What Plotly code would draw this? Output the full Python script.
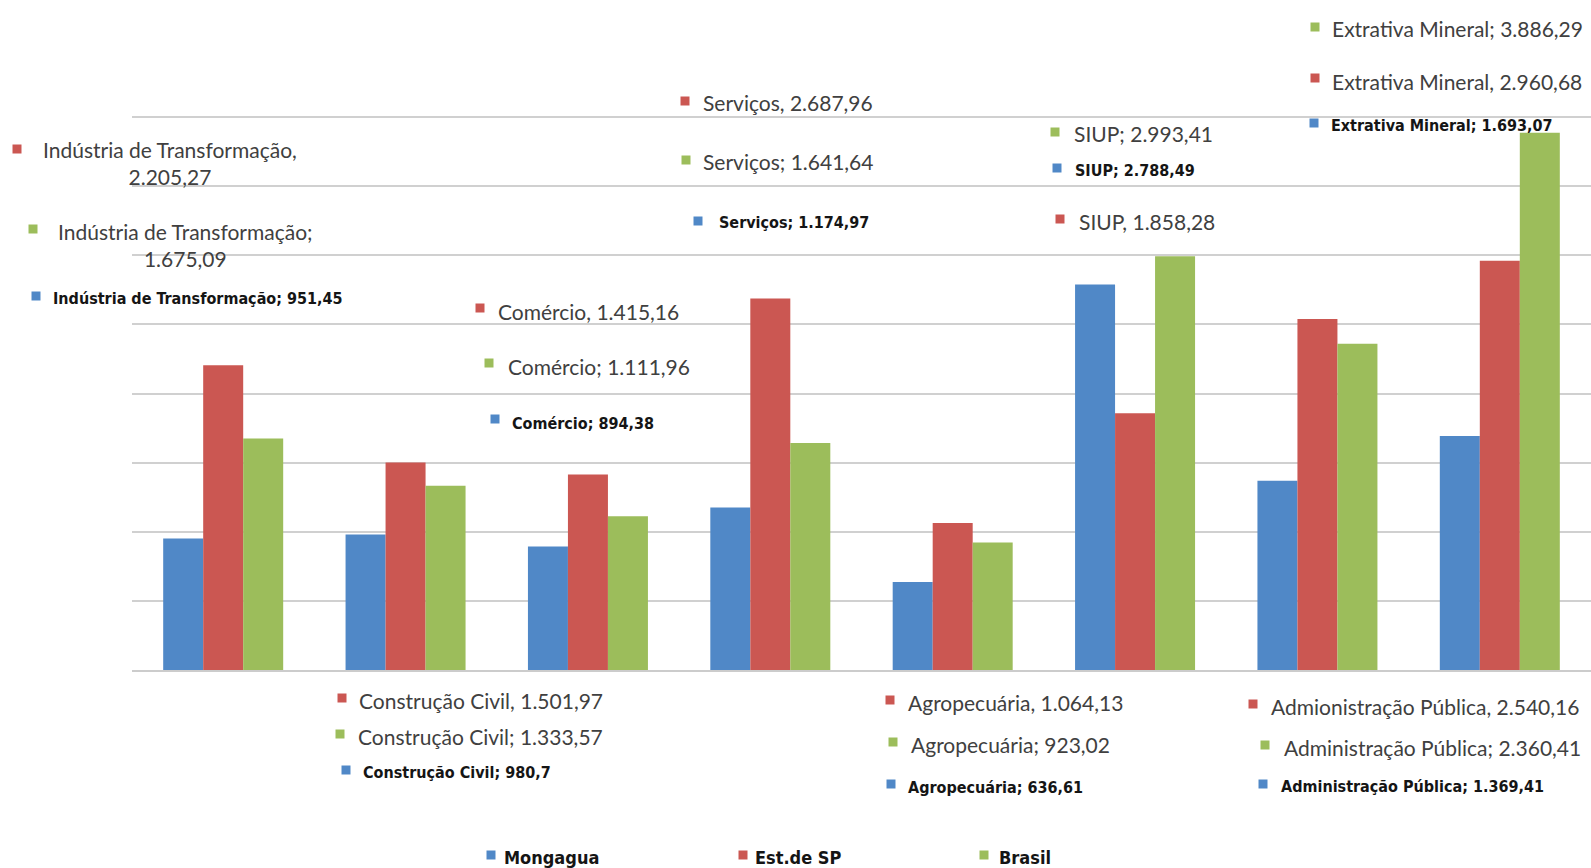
import plotly.graph_objects as go

# Dados: rendimento médio por setor de atividade
categorias = [
    "Indústria de Transformação", "Construção Civil", "Comércio", "Serviços",
    "Agropecuária", "SIUP", "Administração Pública", "Extrativa Mineral",
]
mongagua = [951.45, 980.7, 894.38, 1174.97, 636.61, 2788.49, 1369.41, 1693.07]
est_sp = [2205.27, 1501.97, 1415.16, 2687.96, 1064.13, 1858.28, 2540.16, 2960.68]
brasil = [1675.09, 1333.57, 1111.96, 1641.64, 923.02, 2993.41, 2360.41, 3886.29]

series_nomes = ["Mongagua", "Est.de SP", "Brasil"]
cores = ["#5088C7", "#CB5752", "#9CBD5B"]

# Geometria da figura (px)
W, H = 1591, 868
L, R, T, B = 132, 0, 48, 198
PW, PH = W - L - R, H - T - B


def fx(px):
    return (px - L) / PW


def fy(py):
    return (H - B - py) / PH


def br(v):
    s = f"{v:,.2f}".rstrip("0")
    return s.replace(",", "#").replace(".", ",").replace("#", ".")


fig = go.Figure()
for nome, vals, cor in zip(series_nomes, [mongagua, est_sp, brasil], cores):
    fig.add_trace(go.Bar(x=categorias, y=vals, name=nome, marker=dict(color=cor, line=dict(width=0))))

FONTE_REG = dict(family="Lato, 'Open Sans', sans-serif", size=21, color="#404040")
FONTE_NEG = dict(family="'Liberation Sans Narrow', 'Arial Narrow', 'DejaVu Sans Condensed', sans-serif",
                 size=16, color="#151515", weight="bold")

# Posição de cada rótulo: (série, categoria, quadrado x, quadrado y, texto x, texto y)
rotulos = [
    (0, 0, 36, 296, 51, 298),
    (1, 0, 17, 149, 170, 163),
    (2, 0, 33, 229, 185, 245),
    (1, 1, 342, 698, 357, 700),
    (2, 1, 340, 734, 356, 736),
    (0, 1, 346, 770, 361, 772),
    (1, 2, 480, 308, 496, 311),
    (2, 2, 489, 363, 506, 366),
    (0, 2, 495, 419, 510, 423),
    (1, 3, 685, 101, 701, 102),
    (2, 3, 686, 160, 701, 162),
    (0, 3, 698, 221, 717, 223),
    (1, 4, 890, 700, 906, 702),
    (2, 4, 893, 742, 909, 744),
    (0, 4, 891, 784, 906, 787),
    (2, 5, 1055, 132, 1072, 133),
    (0, 5, 1057, 168, 1073, 170),
    (1, 5, 1060, 219, 1077, 221),
    (1, 6, 1253, 704, 1269, 706),
    (2, 6, 1265, 745, 1282, 747),
    (0, 6, 1263, 784, 1279, 786),
    (2, 7, 1315, 27, 1330, 28),
    (1, 7, 1315, 78, 1330, 81),
    (0, 7, 1314, 123, 1329, 126),
]
nome_rotulo_sp = {6: "Admionistração Pública"}
todas = [mongagua, est_sp, brasil]

shapes = []
annots = []
Q = 4.5
for s, c, qx, qy, tx, ty in rotulos:
    v = todas[s][c]
    nome = nome_rotulo_sp.get(c, categorias[c]) if s == 1 else categorias[c]
    sep = "," if s == 1 else ";"
    if c == 0 and s in (1, 2):
        texto = f"{nome}{sep}<br>{br(v)}"
        xa = "center"
    else:
        texto = f"{nome}{sep} {br(v)}"
        xa = "left"
    shapes.append(dict(type="rect", xref="paper", yref="paper",
                       x0=fx(qx - Q), x1=fx(qx + Q), y0=fy(qy + Q), y1=fy(qy - Q),
                       fillcolor=cores[s], line=dict(width=0)))
    annots.append(dict(text=texto, xref="paper", yref="paper", x=fx(tx), y=fy(ty),
                       xanchor=xa, yanchor="middle", align="center", showarrow=False,
                       font=FONTE_NEG if s == 0 else FONTE_REG))

# Legenda inferior
legenda = [(491, 502), (743, 753), (984, 997)]
for s, (qx, tx) in enumerate(legenda):
    shapes.append(dict(type="rect", xref="paper", yref="paper",
                       x0=fx(qx - Q), x1=fx(qx + Q), y0=fy(855 + Q), y1=fy(855 - Q),
                       fillcolor=cores[s], line=dict(width=0)))
    annots.append(dict(text=series_nomes[s], xref="paper", yref="paper", x=fx(tx), y=fy(857),
                       xanchor="left", yanchor="middle", showarrow=False,
                       font=dict(FONTE_NEG, size=18)))

fig.update_layout(
    width=W, height=H,
    margin=dict(l=L, r=R, t=T, b=B, pad=0),
    paper_bgcolor="white", plot_bgcolor="white",
    barmode="group", bargap=0.342, bargroupgap=0,
    showlegend=False,
    shapes=shapes, annotations=annots,
    xaxis=dict(showticklabels=False, ticks="", showgrid=False, zeroline=False,
               showline=True, linecolor="#CCCCCC", linewidth=2, range=[-0.5, 7.5]),
    yaxis=dict(range=[0, 4500], dtick=500, showticklabels=False, ticks="",
               showgrid=True, gridcolor="#D0D0D0", gridwidth=2, zeroline=False, showline=False),
)

fig.write_html("out.html")
